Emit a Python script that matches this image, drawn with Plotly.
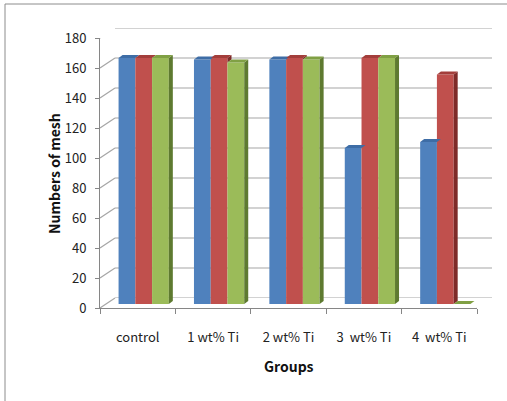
import plotly.graph_objects as go

# ---- data ----
categories = ["control", "1 wt% Ti", "2 wt% Ti", "3\u00a0 wt% Ti", "4\u00a0 wt% Ti"]
series_blue = [164, 163, 163, 104, 108]
series_red = [164, 164, 164, 164, 153]
series_green = [164, 161, 163, 164, 0]
y_ticks = list(range(0, 181, 20))

# ---- style ----
W, H = 507, 401
FONT = "Noto Sans CJK KR"
GRID = "#A6A6A6"
front_face = ["#4F81BD", "#C0504D", "#9BBB59"]
top_face = ["#3E6DA6", "#A33E3B", "#80A044"]
side_face = ["#2F5380", "#7E2B29", "#5E7A30"]

def px(x):
    return x / W

def py(y):
    return (H - y) / H

# front frame (pixels)
FX0, FX1, FY0, FY1 = 100, 477, 308, 38
UNIT_Y = (FY0 - FY1) / 180.0   # px per value unit
BACK_DX, BACK_DY = 15, 10      # back wall offset (px)
BAR_DX, BAR_DY = 6, 4          # bar plane offset (px)
DEPTH_X, DEPTH_Y = 4, 3        # bar depth (px)

fig = go.Figure()

series = [series_blue, series_red, series_green]
for vals, col in zip(series, front_face):
    fig.add_trace(go.Bar(x=categories, y=vals, marker=dict(color=col, line=dict(width=0)),
                         xaxis="x3", yaxis="y3", showlegend=False, hoverinfo="skip"))

# invisible trace to give the front axis its categories
fig.add_trace(go.Scatter(x=categories, y=[0] * len(categories), mode="markers",
                         marker=dict(opacity=0), xaxis="x2", yaxis="y2",
                         showlegend=False, hoverinfo="skip"))

shapes = []
# back wall gridlines
for v in y_ticks:
    shapes.append(dict(type="line", xref="x", yref="y", x0=-0.5, x1=len(categories) - 0.5,
                       y0=v, y1=v, line=dict(color=GRID, width=1.2), layer="below"))
# diagonal connectors from front ticks to back wall
dy_back = BACK_DY / UNIT_Y
for v in y_ticks:
    shapes.append(dict(type="path", xref="x2", yref="y2", xsizemode="pixel", xanchor=-0.5,
                       path=f"M0,{v} L{BACK_DX},{v + dy_back:.3f}",
                       line=dict(color=GRID, width=1.2)))
shapes.append(dict(type="path", xref="x2", yref="y2", xsizemode="pixel",
                   xanchor=len(categories) - 0.5,
                   path=f"M0,0 L{BACK_DX},{dy_back:.3f}",
                   line=dict(color=GRID, width=1.2)))

# 3D faces of bars
n = 3
bargap = 1 / 3
bw = (1 - bargap) / n
unit_px = (FX1 - FX0) / len(categories)
bw_px = bw * unit_px
ddy = DEPTH_Y / UNIT_Y
side_shapes, top_shapes = [], []
for ci in range(len(categories)):
    for si in range(n):
        v = series[si][ci]
        left = ci - (1 - bargap) / 2 + si * bw
        right = left + bw
        nxt = series[si + 1][ci] if si < n - 1 else 0
        if v > nxt:
            side_shapes.append(dict(
                type="path", xref="x3", yref="y3", xsizemode="pixel", xanchor=right,
                path=f"M0,{nxt} L0,{v} L{DEPTH_X},{v + ddy:.3f} L{DEPTH_X},{nxt + ddy:.3f} Z",
                fillcolor=side_face[si], line=dict(width=0), layer="above"))
        top_shapes.append(dict(
            type="path", xref="x3", yref="y3", xsizemode="pixel", xanchor=left,
            path=f"M0,{v} L{bw_px:.2f},{v} L{bw_px + DEPTH_X:.2f},{v + ddy:.3f} L{DEPTH_X},{v + ddy:.3f} Z",
            fillcolor=top_face[si], line=dict(width=0), layer="above"))
shapes += side_shapes + top_shapes

# outer chart border (left and top edges visible in the reference)
shapes.append(dict(type="line", xref="paper", yref="paper", x0=px(5), x1=px(5), y0=0, y1=py(4),
                   line=dict(color="#8C8C8C", width=1)))
shapes.append(dict(type="line", xref="paper", yref="paper", x0=px(5), x1=1, y0=py(4), y1=py(4),
                   line=dict(color="#8C8C8C", width=1)))

rng_x = [-0.5, len(categories) - 0.5]
rng_y = [0, 180]

fig.update_layout(
    width=W, height=H,
    margin=dict(l=0, r=0, t=0, b=0, autoexpand=False),
    paper_bgcolor="white", plot_bgcolor="rgba(0,0,0,0)",
    barmode="group", bargap=bargap, bargroupgap=0,
    showlegend=False,
    font=dict(family=FONT, size=12, color="#222222"),
    shapes=shapes,
    # back wall
    xaxis=dict(domain=[px(FX0 + BACK_DX), px(FX1 + BACK_DX)], range=rng_x, visible=False,
               anchor="y", automargin=False),
    yaxis=dict(domain=[py(FY0 - BACK_DY), py(FY1 - BACK_DY)], range=rng_y, visible=False,
               anchor="x", automargin=False),
    # front axes
    xaxis2=dict(domain=[px(FX0), px(FX1)], range=rng_x, type="category", anchor="y2",
                tickson="boundaries", ticks="outside", ticklen=5, tickcolor="#868686",
                showline=True, linecolor="#868686", linewidth=1, showgrid=False,
                automargin=False,
                ticklabelstandoff=17, tickfont=dict(size=13, color="#222222")),
    yaxis2=dict(domain=[py(FY0), py(FY1)], range=rng_y, anchor="x2",
                tickvals=y_ticks, ticks="outside", ticklen=4, tickcolor="#868686",
                showline=True, linecolor="#868686", linewidth=1, showgrid=False, zeroline=False,
                automargin=False,
                ticklabelstandoff=6, tickfont=dict(size=13, color="#222222")),
    # bar plane
    xaxis3=dict(domain=[px(FX0 + BAR_DX), px(FX1 + BAR_DX)], range=rng_x, visible=False,
                anchor="y3", automargin=False),
    yaxis3=dict(domain=[py(FY0 - BAR_DY), py(FY1 - BAR_DY)], range=rng_y, visible=False,
                anchor="x3", automargin=False),
    annotations=[
        dict(text="<b>Numbers of mesh</b>", xref="paper", yref="paper", x=px(42), y=py(174),
             textangle=-90, showarrow=False, font=dict(size=14, color="#111111")),
        dict(text="<b>Groups</b>", xref="paper", yref="paper", x=px(289), y=py(378),
             showarrow=False, font=dict(size=14, color="#111111")),
    ],
)

fig.write_html(
    "out.html",
    config={"staticPlot": True, "displayModeBar": False},
    post_script="document.body.style.margin='0px';",
)
